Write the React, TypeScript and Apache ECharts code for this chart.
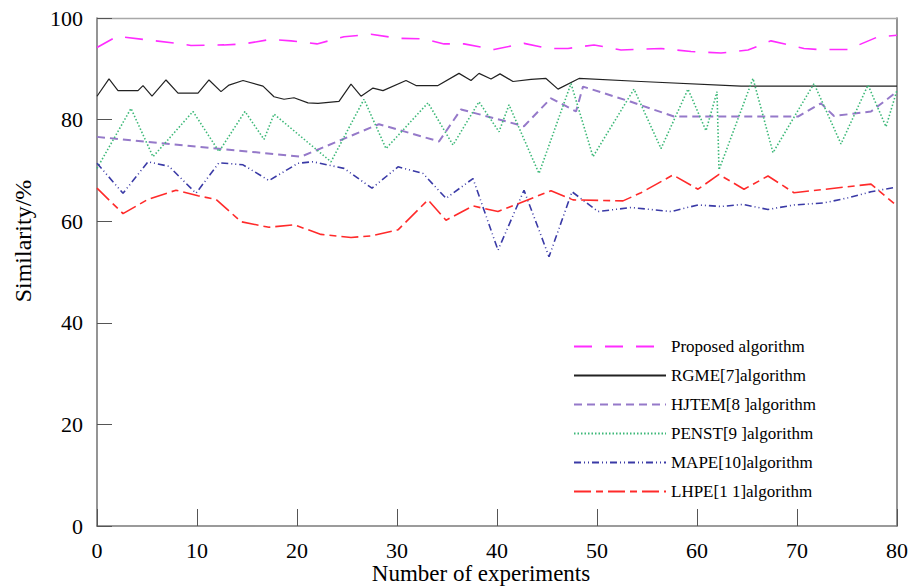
import React, { useEffect, useRef } from "react";
import * as echarts from "echarts";

const xTicks = [0, 10, 20, 30, 40, 50, 60, 70, 80];
const yTicks = [0, 20, 40, 60, 80, 100];

const seriesNames = [
  "Proposed algorithm",
  "RGME[7]algorithm",
  "HJTEM[8 ]algorithm",
  "PENST[9 ]algorithm",
  "MAPE[10]algorithm",
  "LHPE[1 1]algorithm",
];

const proposedX = [0, 2, 5, 8, 9.4, 12.7, 14.7, 17.4, 19.4, 22, 24.7, 27.4, 30.1, 32.7, 34.7, 36.7, 39.7, 42.7, 45.1, 47.1, 49.7, 52.4, 56.4, 59.4, 62.4, 65.1, 67.4, 70.7, 72.1, 75.1, 78.1, 80];
const proposedY = [94.2, 96.4, 95.7, 95.0, 94.6, 94.7, 94.9, 95.8, 95.5, 94.9, 96.3, 96.8, 96.0, 95.9, 94.9, 94.9, 93.8, 95.0, 94.0, 94.0, 94.7, 93.7, 94.0, 93.4, 93.1, 93.7, 95.5, 94.0, 93.8, 93.8, 96.3, 96.6];

const rgmeX = [0, 1.2, 2.1, 4.1, 4.6, 5.5, 6.9, 8.1, 10.1, 11.2, 12.4, 13.2, 14.6, 16.6, 17.7, 18.7, 19.7, 21.1, 22.1, 24.2, 25.4, 26.4, 27.6, 28.6, 30.9, 31.9, 34.1, 36.2, 37.4, 38.2, 39.4, 40.3, 41.6, 43.4, 44.9, 46.1, 48.2, 54.4, 64.4, 80];
const rgmeY = [84.6, 88.0, 85.7, 85.7, 86.7, 84.6, 87.8, 85.2, 85.2, 87.8, 85.5, 86.8, 87.7, 86.6, 84.5, 84.0, 84.3, 83.3, 83.2, 83.6, 87.0, 84.6, 86.2, 85.7, 87.7, 86.7, 86.7, 89.1, 87.7, 89.1, 88.0, 89.0, 87.5, 87.9, 88.1, 86.0, 88.1, 87.5, 86.6, 86.6];

const hjtemX = [0, 20.4, 28.2, 34.2, 36.4, 42.7, 45.4, 47.9, 48.6, 53.4, 57.7, 70.1, 72.4, 73.7, 77.4, 80];
const hjtemY = [76.6, 72.7, 79.1, 75.7, 82.0, 78.7, 84.2, 81.6, 86.5, 83.5, 80.6, 80.6, 83.2, 80.7, 81.6, 85.5];

const penstX = [0, 3.4, 5.6, 9.6, 12.2, 14.8, 16.7, 17.7, 23.4, 26.7, 28.9, 33.1, 35.6, 38.2, 40.2, 41.2, 44.2, 47.4, 49.6, 53.7, 56.4, 59.1, 60.9, 62.0, 62.2, 65.6, 67.6, 71.7, 74.4, 77.1, 78.9, 80];
const penstY = [70.4, 82.2, 72.7, 81.6, 73.7, 81.6, 76.1, 81.1, 71.7, 84.0, 74.3, 83.3, 75.0, 83.5, 77.6, 82.9, 69.4, 87.1, 72.7, 86.0, 74.3, 86.0, 77.8, 85.5, 70.1, 88.1, 73.5, 87.1, 75.2, 86.8, 78.6, 85.8];

const mapeX = [0, 2.6, 5.1, 7.2, 9.9, 12.2, 14.6, 17.2, 20.1, 21.6, 24.7, 27.5, 30.1, 32.6, 34.9, 37.6, 40.1, 42.7, 45.2, 47.5, 50.1, 53.4, 57.4, 60.1, 62.4, 64.6, 67.1, 69.7, 72.7, 75.1, 77.4, 79.6];
const mapeY = [71.4, 65.5, 71.7, 70.8, 65.5, 71.5, 71.1, 68.0, 71.4, 71.7, 70.4, 66.5, 70.7, 69.4, 64.5, 68.4, 54.3, 66.1, 53.0, 65.8, 61.9, 62.7, 61.9, 63.2, 62.9, 63.3, 62.3, 63.2, 63.6, 64.6, 65.8, 66.6];

const lhpeX = [0, 2.6, 5.1, 7.9, 10.1, 11.9, 14.4, 17.2, 19.7, 22.4, 25.4, 27.4, 30.1, 33.1, 34.9, 37.6, 40.1, 45.4, 47.6, 52.6, 54.4, 57.6, 60.1, 62.2, 64.7, 67.1, 69.7, 77.4, 79.7];
const lhpeY = [66.5, 61.5, 64.3, 66.1, 65.0, 64.3, 59.9, 58.8, 59.3, 57.4, 56.8, 57.1, 58.3, 64.2, 60.2, 63.0, 61.9, 66.0, 64.2, 64.0, 65.6, 69.1, 66.3, 69.2, 66.3, 68.9, 65.6, 67.3, 63.5];

const FONT = "'Liberation Serif', 'Times New Roman', serif";

const pair = (xs: number[], ys: number[]) => xs.map((x, i) => [x, ys[i]]);

export default function App() {
  const ref = useRef<HTMLDivElement>(null);
  useEffect(() => {
    if (!ref.current) return;
    const chart = echarts.init(ref.current, undefined, { renderer: "svg" });
    const styles = [
      { color: "#ff2cff", width: 1.6, type: [18, 13] },
      { color: "#222222", width: 1.2, type: "solid" },
      { color: "#9579c9", width: 2, type: [8, 5] },
      { color: "#3cb878", width: 1.6, type: [1.5, 2] },
      { color: "#3a3aa6", width: 1.6, type: [7, 3, 1, 3, 1, 3] },
      { color: "#ff2a2a", width: 1.6, type: [17, 5, 7, 5] },
    ];
    const datasets = [
      pair(proposedX, proposedY),
      pair(rgmeX, rgmeY),
      pair(hjtemX, hjtemY),
      pair(penstX, penstY),
      pair(mapeX, mapeY),
      pair(lhpeX, lhpeY),
    ];
    const series = datasets.map((d, i) => ({
      name: seriesNames[i],
      type: "line",
      data: d,
      symbol: "none",
      showSymbol: false,
      lineStyle: { color: styles[i].color, width: styles[i].width, type: styles[i].type as any },
      itemStyle: { color: styles[i].color },
      xAxisIndex: 0,
      yAxisIndex: 0,
    }));
    chart.setOption({
      animation: false,
      backgroundColor: "#ffffff",
      grid: { left: 97, right: 13, top: 18, bottom: 61, containLabel: false, outerBoundsMode: "none" },
      legend: {
        orient: "vertical",
        left: 573,
        top: 338,
        itemWidth: 92,
        itemHeight: 14,
        itemGap: 12,
        padding: 0,
        data: seriesNames,
        itemStyle: { color: "transparent", borderWidth: 0, opacity: 0 },
        textStyle: { fontFamily: FONT, fontSize: 17, color: "#000" },
      },
      xAxis: [
        {
          type: "value",
          min: 0,
          max: 80,
          interval: 10,
          axisLine: { show: true, onZero: false, lineStyle: { color: "#7a7a7a", width: 1.6 } },
          axisTick: { show: true, inside: true, length: 17, lineStyle: { color: "#555", width: 1 } },
          axisLabel: { fontFamily: FONT, fontSize: 22, color: "#000", margin: 13 },
          splitLine: { show: false },
          name: "Number of experiments",
          nameLocation: "middle",
          nameMoveOverlap: false,
          nameGap: 36,
          nameTextStyle: { fontFamily: FONT, fontSize: 23, color: "#000", lineHeight: 23, padding: [0, 32, 0, 0] },
        },
        {
          type: "value",
          position: "top",
          min: 0,
          max: 80,
          interval: 10,
          axisLine: { show: true, onZero: false, lineStyle: { color: "#a8a8a8", width: 1.4 } },
          axisTick: { show: false },
          axisLabel: { show: false },
          splitLine: { show: false },
        },
      ],
      yAxis: [
        {
          type: "value",
          min: 0,
          max: 100,
          interval: 20,
          axisLine: { show: true, onZero: false, lineStyle: { color: "#7a7a7a", width: 1.6 } },
          axisTick: { show: true, inside: true, length: 15, lineStyle: { color: "#555", width: 1 } },
          axisLabel: { fontFamily: FONT, fontSize: 22, color: "#000", margin: 14 },
          splitLine: { show: false },
        },
        {
          type: "value",
          position: "right",
          min: 0,
          max: 100,
          interval: 20,
          axisLine: { show: true, onZero: false, lineStyle: { color: "#7a7a7a", width: 1.6 } },
          axisTick: { show: false },
          axisLabel: { show: false },
          splitLine: { show: false },
        },
      ],
      graphic: [
        {
          type: "text",
          x: 23,
          y: 241,
          rotation: Math.PI / 2,
          style: {
            text: "Similarity/%",
            font: `24px ${FONT}`,
            fill: "#000",
            textAlign: "center",
            textVerticalAlign: "middle",
          },
        },
      ],
      series,
    });
    return () => chart.dispose();
  }, []);
  return <div ref={ref} style={{ width: 910, height: 587, position: "absolute", left: 0, top: 0 }} />;
}
